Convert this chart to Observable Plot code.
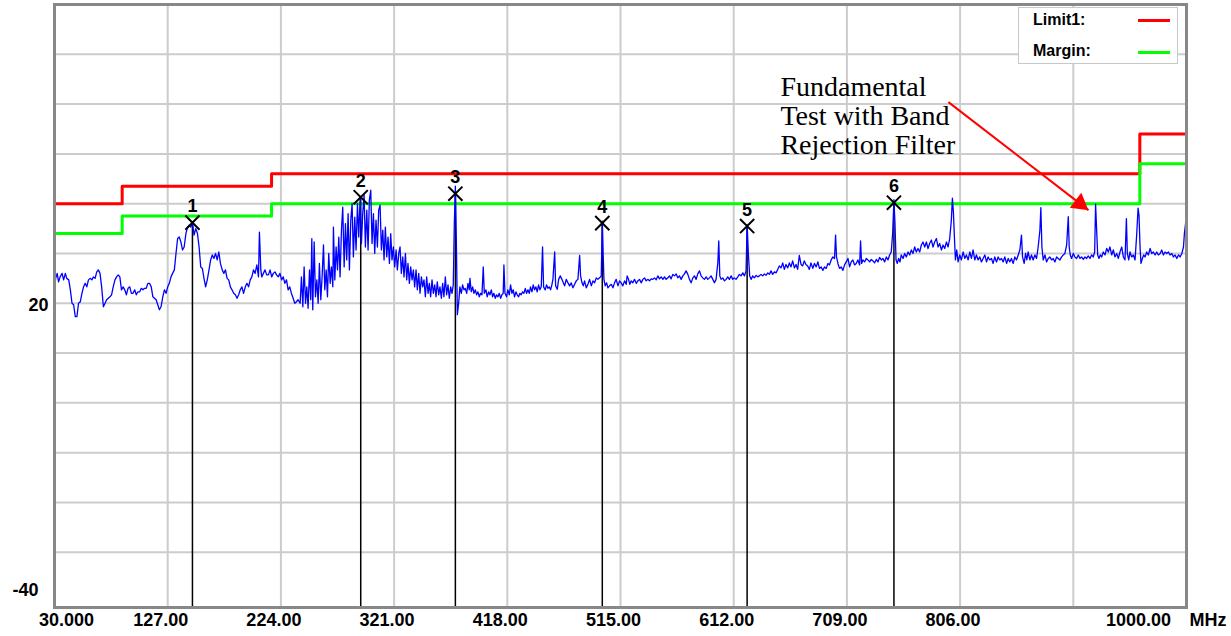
<!DOCTYPE html>
<html><head><meta charset="utf-8">
<script src="https://cdn.jsdelivr.net/npm/d3@7"></script>
<script src="https://cdn.jsdelivr.net/npm/@observablehq/plot@0.6"></script>
<style>
html,body{margin:0;padding:0;background:#fff;}
#wrap{position:relative;width:1231px;height:636px;}
#legend{position:absolute;left:1018px;top:7px;width:158px;height:55px;background:#fff;border:1px solid #c8c8c8;font-family:"Liberation Sans",Arial,sans-serif;font-weight:bold;font-size:16px;color:#000;}
#legend .row{position:absolute;left:14px;line-height:16px;}
#legend .sw{position:absolute;left:119px;width:32px;height:3px;}
</style></head><body>
<div id="wrap"><div id="legend"></div></div>
<script>
// ---- data ----
const xTickMHz = [127, 224, 321, 418, 515, 612, 709, 806];
const xGridMHz = [127, 224, 321, 418, 515, 612, 709, 806, 903];
const yGridLevel = [-30, -20, -10, 0, 10, 20, 30, 40, 50, 60, 70];
const xDomain = [30, 1000];
const yDomain = [-41.1, 80];
const limitMHz = [30, 88, 216, 960, 1000];
const limitLevel = [40, 43.5, 46, 54, 54];
const marginLevel = [34, 37.5, 40, 48, 48];
const legendNames = ["Limit1:", "Margin:"];
const legendColors = ["#ff0000", "#00ff00"];
const markerId = ["1", "2", "3", "4", "5", "6"];
const markerMHz = [148.2, 292.4, 373.5, 499.4, 623.5, 749.3];
const markerLevel = [36.2, 41.3, 42.0, 36.1, 35.5, 40.2];
const noteText = ["Fundamental\nTest with Band\nRejection Filter"];
const noteMHz = [652];
const noteLevel = [65.8];
const arrowMHz = [796, 916];
const arrowLevel = [60.4, 38.7];
// spectrum trace: [MHz, dBuV]
const spectrum = [
[30.0,23.3],[31.0,25.0],[32.3,26.0],[33.5,24.3],[34.8,25.3],[36.5,26.0],[37.8,24.7],[39.3,26.0],[40.5,25.0],[42.2,24.7],[43.6,22.7],[45.0,20.0],[46.4,19.7],[47.8,17.3],[49.2,17.3],[50.6,20.0],[52.1,20.3],[53.5,22.0],[54.9,23.3],[56.3,24.0],[57.7,23.3],[59.1,24.7],[60.5,25.0],[62.0,24.7],[63.4,25.3],[64.8,25.0],[66.2,26.3],[67.6,26.7],[69.0,26.0],[70.4,23.3],[71.9,19.3],[73.3,20.0],[74.7,20.7],[76.1,21.0],[77.5,21.3],[78.9,21.7],[80.3,23.3],[81.8,24.7],[83.2,25.3],[84.6,25.7],[86.0,25.3],[87.4,22.7],[88.8,23.3],[90.2,22.7],[91.6,21.7],[93.0,23.0],[94.5,23.3],[95.9,22.0],[97.3,22.0],[98.7,22.7],[100.1,21.7],[101.5,22.3],[103.0,22.3],[104.4,23.0],[105.8,22.7],[107.2,23.0],[108.6,23.0],[110.0,24.0],[111.4,24.0],[112.9,23.3],[114.3,21.3],[115.7,21.0],[117.1,20.7],[118.5,19.7],[119.9,18.7],[121.3,19.3],[122.8,21.3],[124.2,22.7],[125.6,22.0],[127.0,23.3],[128.4,24.0],[129.8,25.3],[131.2,26.0],[132.7,26.7],[134.1,30.0],[135.5,33.0],[136.9,33.3],[138.3,32.3],[139.7,30.7],[141.1,31.3],[142.6,34.0],[144.0,35.3],[145.4,35.7],[146.8,35.3],[148.2,36.2],[149.6,33.7],[151.0,35.0],[152.5,34.0],[153.9,31.3],[155.3,27.3],[156.7,27.0],[158.1,25.0],[159.5,23.3],[160.9,24.7],[162.4,26.7],[163.8,28.7],[165.2,29.7],[166.6,29.0],[168.0,30.0],[169.4,28.7],[170.8,30.3],[172.2,28.0],[173.7,26.7],[175.1,26.0],[176.5,26.7],[177.9,25.0],[179.3,24.7],[180.7,23.3],[182.1,22.7],[183.6,22.0],[185.0,21.7],[186.4,21.0],[187.8,21.7],[189.2,22.7],[190.6,23.3],[192.0,22.0],[193.5,23.3],[194.9,24.0],[196.3,23.3],[197.7,24.7],[199.1,25.3],[200.5,26.7],[201.9,26.0],[203.4,27.7],[204.8,25.3],[205.6,34.3],[206.8,26.7],[207.6,25.3],[209.0,26.0],[210.4,26.7],[211.8,25.7],[213.3,25.7],[214.7,26.7],[216.1,25.3],[217.5,26.0],[218.9,26.3],[220.3,25.7],[221.7,25.3],[223.2,26.0],[224.6,24.7],[226.0,25.3],[227.4,24.0],[228.8,24.7],[230.2,22.7],[231.6,23.3],[233.0,22.0],[234.5,21.0],[235.9,20.0],[237.3,20.3],[238.7,20.7],
[240.5,20.0],[241.6,25.3],[242.8,19.3],[243.9,27.3],[245.1,20.0],[246.2,23.3],[247.3,19.0],[248.5,26.7],[249.6,20.7],[250.5,33.0],[251.3,18.7],[252.5,32.3],[253.6,21.3],[254.8,24.7],[255.9,20.0],[257.0,28.0],[258.2,20.7],[259.3,25.3],[260.5,31.7],[261.6,22.7],[262.8,26.7],[263.9,21.3],[265.0,30.0],[266.2,24.0],[267.3,27.3],[268.5,23.3],[269.0,35.3],[270.2,24.7],[271.3,31.3],[272.5,26.7],[273.6,33.3],[274.7,25.3],[275.9,34.7],[277.0,39.3],[278.2,27.3],[279.3,36.0],[280.4,28.7],[281.6,38.0],[282.7,26.7],[283.9,36.7],[285.0,40.0],[286.1,29.3],[287.3,37.3],[288.4,30.7],[289.6,40.0],[290.7,33.3],[291.9,41.3],[293.0,32.0],[294.1,38.0],[295.3,41.7],[296.4,31.3],[297.6,38.7],[298.7,30.7],[299.8,40.7],[301.0,42.7],[302.1,32.0],[303.3,38.0],[304.4,30.0],[305.5,36.7],[306.7,31.3],[307.8,38.7],[309.0,39.7],[310.1,30.7],[311.3,34.7],[312.4,28.7],[313.5,35.3],[314.7,29.3],[315.8,33.3],[317.0,28.0],[318.1,34.0],[319.2,28.7],[320.4,31.3],[321.5,27.3],[322.7,30.7],[323.8,26.7],[325.0,30.0],[326.1,31.3],[327.2,26.0],[328.4,29.3],[329.5,25.3],[330.7,30.0],[331.8,24.7],[332.9,28.0],[334.1,24.0],[335.2,27.3],[336.4,24.7],[337.5,26.7],[338.6,23.3],[339.8,26.7],[340.9,22.7],[342.1,26.0],[343.2,22.0],[344.4,25.3],[345.5,23.3],[346.6,24.7],[347.8,21.3],[348.9,25.3],[350.1,22.0],[351.2,24.0],[352.3,21.3],[353.5,24.7],[354.6,22.0],[355.8,23.7],[356.9,21.3],[358.0,24.3],[359.2,21.7],[360.3,23.3],[361.5,21.0],[362.6,24.0],[363.7,21.3],[364.9,25.3],[366.0,21.7],[367.2,23.7],[368.3,21.0],[369.5,23.3],[370.6,22.0],[371.7,23.7],[372.6,36.0],[373.5,43.5],[374.3,33.3],[375.2,17.7],[376.3,20.0],[377.4,23.3],[378.6,22.0],[379.7,23.7],[380.9,22.7],[382.0,23.0],[383.2,22.0],[384.3,24.0],[385.4,22.7],[386.0,25.0],[387.1,22.3],[388.3,23.3],[389.4,22.0],[390.6,22.7],[391.7,21.7],[392.8,22.3],[394.0,21.3],[395.1,22.0],[396.3,21.7],[397.4,27.3],[398.3,22.0],[399.7,22.7],[400.8,21.3],[402.0,22.3],[403.1,21.7],[404.3,22.7],[405.4,21.3],[406.5,22.0],[407.7,21.0],[408.8,21.7],[410.0,21.3],[411.1,22.0],[412.3,21.0],[413.4,21.7],[414.5,22.0],[415.1,27.7],[416.0,22.0],[417.4,21.3],[418.5,22.7],[419.7,21.7],[420.8,23.7],[422.0,22.0],[423.1,22.7],[424.2,21.3],[425.4,22.3],[426.5,21.7],[427.7,21.3],[428.8,22.0],[429.9,21.7],[431.1,22.3],[432.2,22.0],[433.4,23.0],[434.5,22.0],[435.7,22.7],[436.8,22.0],[437.9,23.3],[439.1,22.3],[440.2,23.7],[441.4,22.7],[442.5,23.3],[443.6,22.3],[444.8,23.7],[445.9,22.7],[447.1,23.3],[448.2,31.3],[449.1,23.3],[450.5,22.7],[451.6,23.7],[452.8,23.0],[453.9,23.3],[455.1,22.7],[456.2,23.7],
[457.1,24.8],[458.6,30.3],[459.4,23.5],[460.8,22.8],[462.0,24.8],[463.4,25.5],[464.8,24.8],[466.0,24.1],[467.1,23.5],[468.5,24.8],[470.0,24.1],[471.4,23.5],[472.8,24.1],[474.2,23.1],[475.7,23.8],[477.1,24.5],[478.5,24.8],[480.0,29.6],[480.8,25.5],[482.0,24.1],[483.1,23.5],[484.2,24.5],[485.7,23.1],[487.1,23.8],[488.5,24.8],[490.0,23.5],[491.4,24.5],[492.8,24.1],[494.2,25.1],[495.6,24.8],[497.1,25.1],[498.5,25.5],[499.4,36.5],[500.2,29.5],[500.8,24.8],[501.9,23.5],[503.1,24.1],[504.2,23.1],[505.6,23.5],[507.1,23.8],[508.5,23.1],[509.9,24.1],[511.3,24.8],[512.8,23.5],[514.2,24.5],[515.6,24.1],[517.0,23.5],[518.5,24.5],[519.9,23.8],[520.7,25.5],[521.9,24.8],[523.0,23.8],[524.2,24.5],[525.6,24.1],[527.0,24.8],[528.5,24.0],[529.9,24.5],[531.3,24.8],[532.7,24.1],[534.2,24.8],[535.6,25.1],[537.0,24.5],[538.4,24.8],[539.9,24.5],[541.3,24.9],[542.7,24.8],[544.1,25.1],[545.6,24.7],[547.0,25.5],[548.4,24.9],[549.8,25.3],[551.3,24.8],[552.7,25.3],[554.1,24.8],[555.6,25.1],[557.0,25.5],[558.4,24.9],[559.8,25.8],[561.3,25.5],[562.7,25.9],[564.1,25.1],[565.5,25.5],[567.0,24.8],[568.4,25.5],[569.8,25.9],[571.2,26.5],[572.7,25.8],[574.1,24.8],[575.5,24.1],[577.0,25.1],[578.4,25.5],[579.8,24.8],[581.2,25.9],[582.7,26.5],[584.1,25.5],[585.5,25.1],[586.9,24.8],[588.4,25.3],[589.8,24.8],[591.2,25.1],[592.6,25.5],[594.1,24.8],[595.5,24.1],[596.9,24.8],[598.4,28.1],[599.2,32.5],[600.1,25.5],[601.2,24.8],[602.6,25.1],[604.1,24.5],[605.5,24.8],[606.9,25.3],[608.3,24.8],[609.8,25.5],[611.2,24.8],[612.6,25.1],[614.0,24.8],[615.5,25.3],[616.9,25.8],[618.3,25.5],[619.8,26.1],[621.2,25.5],[622.6,26.5],[623.5,35.8],[624.6,29.8],[625.7,25.5],[626.9,24.8],[628.3,25.5],[629.7,25.1],[631.2,25.6],[632.6,25.3],[634.0,25.5],[635.4,25.8],[636.9,25.5],[638.3,25.9],[639.7,25.6],[641.2,26.1],[642.6,25.8],[644.0,26.5],[645.4,25.8],[646.9,26.3],[648.3,26.1],[649.7,26.8],[651.1,27.5],[652.6,27.1],[654.0,28.1],[655.4,26.8],[656.8,27.8],[658.3,27.1],[659.7,28.1],[661.1,27.3],[662.5,28.5],[664.0,27.1],[665.4,27.8],[666.8,26.8],[668.2,29.6],[669.7,27.8],[671.1,27.5],[672.5,28.5],[673.9,27.8],[675.4,27.5],[676.8,26.8],[678.2,28.1],
[679.8,27.0],[681.2,28.0],[682.7,27.3],[684.1,28.3],[685.5,27.0],[687.0,27.3],[688.4,26.6],[689.8,27.3],[691.3,27.0],[692.7,28.0],[694.1,27.7],[695.5,28.7],[697.0,29.3],[698.4,29.0],[699.3,33.7],[700.1,29.3],[701.3,28.0],[702.7,27.0],[704.1,27.3],[705.6,26.6],[707.0,27.7],[708.4,28.3],[709.9,29.0],[711.3,27.3],[712.7,28.3],[714.1,28.7],[715.6,27.7],[717.0,28.0],[718.4,28.7],[719.9,27.7],[720.7,32.5],[721.6,28.0],[722.7,28.7],[724.2,28.3],[725.6,29.0],[727.0,28.7],[728.5,28.3],[729.9,28.8],[731.3,28.5],[732.7,28.1],[734.2,28.8],[735.6,28.3],[737.0,29.2],[738.5,28.7],[739.9,29.0],[741.3,28.3],[742.8,29.3],[744.2,28.7],[745.6,29.7],[747.0,30.3],[748.2,34.0],[749.3,40.8],[750.2,36.0],[751.1,28.7],[752.2,28.0],[753.3,29.0],[754.5,28.3],[755.6,29.7],[757.1,29.0],[758.5,30.0],[759.9,29.3],[761.4,30.3],[762.8,29.7],[764.2,30.7],[765.6,30.0],[767.1,31.3],[768.5,30.3],[769.9,31.0],[771.4,30.3],[772.8,31.7],[774.2,32.3],[775.7,31.3],[777.1,32.3],[778.5,31.0],[779.9,32.0],[781.4,32.7],[782.8,31.3],[784.2,32.3],[785.7,33.0],[787.1,31.3],[788.5,32.0],[790.0,30.7],[791.4,31.7],[792.8,31.0],[794.3,32.3],[795.7,31.3],[797.1,33.0],[798.5,36.7],[799.4,41.1],[800.3,38.1],[801.1,33.4],[802.0,28.7],[803.1,30.7],[804.3,28.3],[805.7,29.7],[807.1,28.7],[808.6,30.3],[810.0,29.0],[811.4,29.7],[812.9,28.7],[814.3,30.3],[815.7,29.0],[817.1,30.7],[818.6,28.7],[820.0,29.7],[821.4,28.7],[822.9,29.3],[824.3,28.3],[825.7,29.0],[827.2,29.7],[828.6,28.3],[830.0,29.3],[831.4,28.7],[832.9,29.0],[834.3,28.0],[835.7,29.3],[837.2,28.3],[838.6,29.3],[840.0,28.7],[841.5,29.0],[842.9,28.3],[844.3,29.3],[845.8,28.0],[847.2,29.0],[848.6,28.3],[850.0,29.0],[851.5,28.0],[852.9,29.3],[854.3,28.7],[855.8,29.7],[857.2,30.7],[858.6,33.7],[859.5,29.3],[860.9,28.0],[862.1,30.0],[863.2,28.7],[864.3,30.3],[865.8,28.7],[867.2,29.7],[868.6,28.7],[870.1,29.7],[871.5,29.0],[872.9,31.3],[874.4,34.7],[875.2,39.2],[876.1,31.3],[877.2,28.7],[878.7,29.7],[880.1,28.3],[881.5,29.0],[882.9,29.3],[884.4,28.7],[885.8,29.0],[887.2,28.3],[888.7,29.3],[890.1,29.0],[891.5,28.7],[893.0,29.3],[894.4,29.7],[895.8,30.0],[897.3,31.7],[898.7,37.4],[899.5,31.3],[900.4,29.7],[901.5,29.0],[903.0,30.0],[904.4,29.3],[905.8,29.0],[907.3,29.7],[908.7,29.0],[910.1,29.3],[911.6,28.8],[913.0,29.3],[914.4,29.0],[915.8,29.5],[917.3,29.0],[918.7,29.7],[920.1,29.3],[921.3,30.3],[922.1,39.9],[923.0,34.7],[923.9,29.7],[925.0,29.0],[926.1,29.7],[927.3,29.3],[928.7,30.3],[930.2,29.7],[931.6,31.0],[933.0,30.3],[934.4,31.3],[935.9,29.7],[937.3,30.7],[938.7,29.3],[940.2,30.0],[941.6,29.0],[943.0,30.3],[944.5,31.3],[945.9,29.3],[947.3,28.7],[948.5,37.0],[949.3,30.0],[950.5,28.7],[951.6,30.3],[953.0,29.3],[954.5,29.7],[955.9,28.7],[957.3,33.7],[958.5,39.1],[959.3,37.7],[960.2,31.3],[961.0,28.0],[962.2,29.0],[963.3,29.7],[964.5,29.3],[965.9,30.3],[967.3,29.7],[968.8,31.0],[970.2,30.0],[971.6,30.3],[973.1,29.7],[974.5,30.3],[975.9,29.7],[977.4,30.0],[978.8,30.7],[980.2,29.7],[981.6,30.3],[983.1,30.0],[984.5,30.3],[985.9,29.7],[987.4,30.0],[988.8,29.3],[990.2,29.7],[991.7,29.0],[993.1,29.7],[994.5,29.3],[996.0,30.0],[997.4,31.3],[998.2,34.0],[999.2,36.0],[1000.0,37.5]
];

// ---- build tables ----
const limitRows = limitMHz.map((f, i) => ({f, limit: limitLevel[i], margin: marginLevel[i]}));
const markers = markerId.map((id, i) => ({id, f: markerMHz[i], v: markerLevel[i]}));
const notes = noteText.map((t, i) => ({t, f: noteMHz[i], v: noteLevel[i]}));
const arrows = [{x1: arrowMHz[0], y1: arrowLevel[0], x2: arrowMHz[1], y2: arrowLevel[1]}];

const sans = "'Liberation Sans', Arial, sans-serif";
const axisFont = {fontFamily: sans, fontWeight: "bold", fontSize: 18, tickSize: 0, label: null, fill: "#000"};

const chart = Plot.plot({
  width: 1231, height: 636,
  marginLeft: 54, marginRight: 45, marginTop: 4, marginBottom: 29,
  x: {domain: xDomain, label: null},
  y: {domain: yDomain, label: null},
  style: {background: "#fff", color: "#000", fontFamily: sans},
  marks: [
    Plot.gridX(xGridMHz, {stroke: "#cccccc", strokeOpacity: 1, strokeWidth: 2}),
    Plot.gridY(yGridLevel, {stroke: "#cccccc", strokeOpacity: 1, strokeWidth: 2}),
    Plot.line(limitRows, {x: "f", y: "limit", curve: "step-after", stroke: legendColors[0], strokeWidth: 3}),
    Plot.line(limitRows, {x: "f", y: "margin", curve: "step-after", stroke: legendColors[1], strokeWidth: 3}),
    Plot.ruleX(markers, {x: "f", y1: "v", y2: yDomain[0], stroke: "#000", strokeWidth: 1.5}),
    Plot.line(spectrum, {x: d => d[0], y: d => d[1], stroke: "#0000ff", strokeWidth: 1.3}),
    Plot.dot(markers, {x: "f", y: "v", symbol: "times", r: 6.5, stroke: "#000", strokeWidth: 2}),
    Plot.text(markers, {x: "f", y: "v", text: "id", dy: -16, fontSize: 18, fontWeight: "bold", fontFamily: sans, fill: "#000"}),
    Plot.text(notes, {x: "f", y: "v", text: "t", textAnchor: "start", lineAnchor: "top", lineHeight: 1.04, fontSize: 28, fontFamily: "'Liberation Serif', 'Times New Roman', serif", fill: "#000"}),
    Plot.link(arrows, {x1: "x1", y1: "y1", x2: "x2", y2: "y2", stroke: "#ff0000", strokeWidth: 2}),
    Plot.dot(arrows, {x: "x2", y: "y2", symbol: "triangle", r: 7, fill: "#ff0000", stroke: null, rotate: 127.6, dx: -8.6, dy: -6.6}),
    Plot.frame({stroke: "#888888", strokeWidth: 3}),
    Plot.axisX([xDomain[0]], {...axisFont, tickFormat: d => d.toFixed(3), tickPadding: 6, dx: 12}),
    Plot.axisX(xTickMHz, {...axisFont, tickFormat: d => d.toFixed(2), tickPadding: 6, dx: -7}),
    Plot.axisX([xDomain[1]], {...axisFont, tickFormat: d => d.toFixed(2), tickPadding: 6, dx: -48}),
    Plot.axisX([xDomain[1]], {...axisFont, tickFormat: () => "MHz", tickPadding: 6, textAnchor: "start", dx: 3}),
    Plot.axisY([20], {...axisFont, tickFormat: d => String(d), tickPadding: 6, dy: 2}),
    Plot.axisY([-40], {...axisFont, tickFormat: d => String(d), tickPadding: 16, dy: -12})
  ]
});
document.getElementById("wrap").prepend(chart);

// legend overlay (inside the plot area, top right)
const legend = document.getElementById("legend");
legendNames.forEach((name, i) => {
  const row = document.createElement("div");
  row.className = "row";
  row.style.top = (4 + i * 31) + "px";
  row.textContent = name;
  legend.appendChild(row);
  const sw = document.createElement("div");
  sw.className = "sw";
  sw.style.top = (11 + i * 32) + "px";
  sw.style.background = legendColors[i];
  legend.appendChild(sw);
});
</script>
</body></html>
